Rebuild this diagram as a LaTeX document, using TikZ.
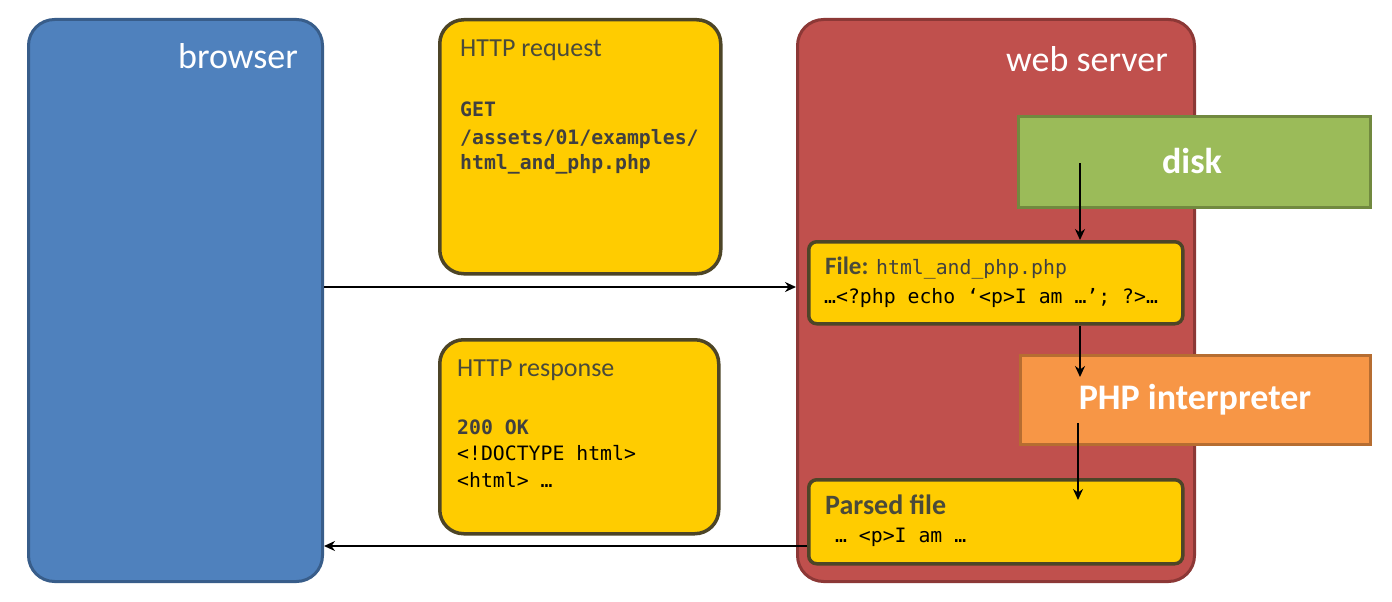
\documentclass[tikz,border=0pt]{standalone}
\usepackage{fontspec}
\setmainfont{Carlito}
\setmonofont{DejaVu Sans Mono}
\usetikzlibrary{arrows.meta,calc}
\definecolor{browserfill}{HTML}{4F81BD}
\definecolor{browserline}{HTML}{385D8A}
\definecolor{serverfill}{HTML}{C0504D}
\definecolor{serverline}{HTML}{8C3836}
\definecolor{yfill}{HTML}{FFCC00}
\definecolor{yline}{HTML}{4D4527}
\definecolor{diskfill}{HTML}{9BBB59}
\definecolor{diskline}{HTML}{71893F}
\definecolor{phpfill}{HTML}{F79646}
\definecolor{phpline}{HTML}{B66D31}
\definecolor{labelgray}{HTML}{4A4A3A}
\definecolor{monogray}{HTML}{404040}
\tikzset{
  bigbox/.style={draw, line width=3pt, rounded corners=26pt, anchor=north west, inner sep=0pt},
  msgbox/.style={draw=yline, fill=yfill, line width=3.5pt, rounded corners=24pt, anchor=north west, inner sep=0pt},
  filebox/.style={draw=yline, fill=yfill, line width=3.5pt, rounded corners=8pt, anchor=north west, inner sep=0pt},
  flatbox/.style={draw, line width=3pt, anchor=north west, inner sep=0pt},
  title/.style={text=white, font=\fontsize{36}{42}\selectfont, anchor=base east, inner sep=0pt},
  boxlabel/.style={text=white, font=\bfseries\fontsize{36}{42}\selectfont, inner sep=0pt},
  head/.style={text=labelgray, font=\fontsize{26}{30}\selectfont, anchor=base west, inner sep=0pt},
  code/.style={font=\ttfamily\fontsize{19.8}{26}\selectfont, anchor=base west, inner sep=0pt},
  codeb/.style={text=monogray, font=\ttfamily\bfseries\fontsize{19.8}{26}\selectfont, anchor=base west, inner sep=0pt},
  arr/.style={line width=1.8pt, -{Stealth[length=11pt,width=10pt]}},
}
\begin{document}
\begin{tikzpicture}[x=1pt,y=-1pt]
\useasboundingbox (0,0) rectangle (1392,602);
% browser
\node[bigbox, draw=browserline, fill=browserfill, minimum width=294pt, minimum height=562pt] (browser) at (27,18) {};
\node[title] (browsert) at (298,68) {browser};
% web server
\node[bigbox, draw=serverline, fill=serverfill, minimum width=397pt, minimum height=562pt] (server) at (796,18) {};
\node[title] (servert) at (1168,71) {web server};
% HTTP request
\node[msgbox, minimum width=281pt, minimum height=254pt] (req) at (438,18) {};
\node[head] (reqt) at (460,57) {HTTP request};
\node[codeb] (req1) at (460,116) {GET};
\node[codeb] (req2) at (460,144) {/assets/01/examples/};
\node[codeb] (req3) at (460,169) {html\_and\_php.php};
% HTTP response
\node[msgbox, minimum width=279pt, minimum height=194pt] (resp) at (438,338) {};
\node[head] (respt) at (457,376) {HTTP response};
\node[codeb] (resp1) at (457,434) {200 OK};
\node[code] (resp2) at (457,460) {<!DOCTYPE html>};
\node[code] (resp3) at (457,487) {<html> …};
% disk
\node[flatbox, draw=diskline, fill=diskfill, minimum width=352pt, minimum height=91pt] (disk) at (1017,115) {};
\node[boxlabel] (diskt) at (1192,161) {disk};
% PHP interpreter
\node[flatbox, draw=phpline, fill=phpfill, minimum width=350pt, minimum height=89pt] (php) at (1019,354) {};
\node[boxlabel] (phpt) at (1195,400) {PHP interpreter};
% File box
\node[filebox, minimum width=374pt, minimum height=82pt] (file) at (807,240) {};
\node[anchor=base west, inner sep=0pt, text=labelgray, font=\bfseries\fontsize{25}{30}\selectfont] (filet) at (825,274) {File:};
\node[anchor=base west, inner sep=0pt, text=monogray, font=\ttfamily\fontsize{19.8}{26}\selectfont] (filen) at (876,274) {html\_and\_php.php};
\node[code] (file2) at (824,303) {…<?php echo ‘<p>I am …’; ?>…};
% Parsed file
\node[filebox, minimum width=374pt, minimum height=84pt] (parsed) at (807,478) {};
\node[anchor=base west, inner sep=0pt, text=labelgray, font=\bfseries\fontsize{28}{32}\selectfont] (parsedt) at (825,514) {Parsed file};
\node[code] (parsed2) at (823,542) {\ … <p>I am …};
% arrows
\coordinate (d0) at (1080,163);
\coordinate (p1) at (1080,377);
\coordinate (p0) at (1078,423);
\coordinate (q1) at (1078,500);
\draw[arr] (browser.east |- 0,287) -- (server.west |- 0,287);
\draw[arr] (parsed.west |- 0,546) -- (browser.east |- 0,546);
\draw[arr] (d0) -- (d0 |- file.north);
\draw[arr] (file.south -| p1) -- (p1);
\draw[arr] (p0) -- (q1);
\end{tikzpicture}
\end{document}
